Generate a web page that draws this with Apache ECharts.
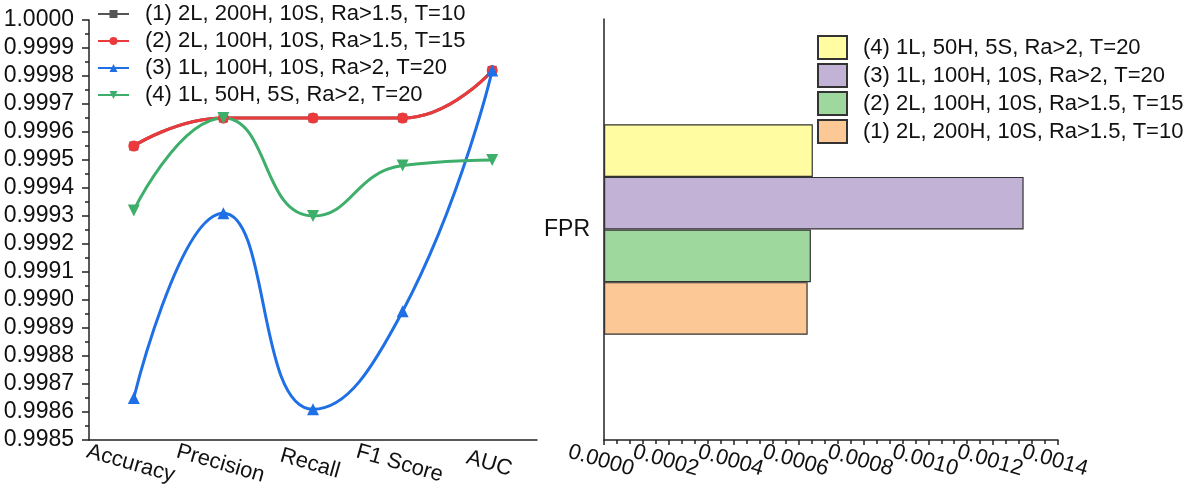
<!DOCTYPE html>
<html>
<head>
<meta charset="utf-8">
<script src="https://cdn.jsdelivr.net/npm/echarts@6/dist/echarts.min.js"></script>
<style>
  html, body { margin: 0; padding: 0; background: #fff; }
  #lineChart { position: absolute; left: 0; top: 0; width: 560px; height: 493px; }
  #barChart { position: absolute; left: 500px; top: 0; width: 696px; height: 493px; }
</style>
</head>
<body>
<div id="lineChart"></div>
<div id="barChart"></div>
<script>
// 指标
const metrics = ['Accuracy', 'Precision', 'Recall', 'F1 Score', 'AUC']
// 各配置名称
const names = [
  '(1) 2L, 200H, 10S, Ra>1.5, T=10',
  '(2) 2L, 100H, 10S, Ra>1.5, T=15',
  '(3) 1L, 100H, 10S, Ra>2, T=20',
  '(4) 1L, 50H, 5S, Ra>2, T=20'
]
const cfg1 = [0.99955, 0.99965, 0.99965, 0.99965, 0.99982]
const cfg2 = [0.99955, 0.99965, 0.99965, 0.99965, 0.99982]
const cfg3 = [0.99865, 0.99931, 0.99861, 0.99896, 0.99982]
const cfg4 = [0.99932, 0.99965, 0.99930, 0.99948, 0.99950]
// FPR 柱状图
const fprCategory = ['FPR']
const fpr = [0.000628, 0.000638, 0.001294, 0.000644]

const font = 'Liberation Sans, Arial, sans-serif'
const lineColors = ['#555555', '#ec3a3c', '#1f6fe5', '#3daf6b']
const barColors = ['#fbc896', '#9ed89c', '#c1b2d6', '#fffca2']
const symbols = ['rect', 'circle', 'triangle', 'path://M0,0 L10,0 L5,9 Z']
const symbolSizes = [9, 11, 12, 12]
const axisColor = '#222'

const lineChart = echarts.init(document.getElementById('lineChart'))
const lineOption = {
  animation: false,
  legend: {
    left: 97,
    top: 3,
    padding: 0,
    orient: 'vertical',
    itemWidth: 31,
    itemHeight: 10,
    itemGap: 5,
    textStyle: { fontFamily: font, fontSize: 22, lineHeight: 22, color: '#111', padding: [0, 0, 0, 11] },
    data: names
  },
  grid: { left: 89, right: 23, top: 20, bottom: 53, outerBoundsMode: 'none' },
  xAxis: [{
    type: 'category',
    data: metrics,
    axisLine: { lineStyle: { color: axisColor, width: 1.5 } },
    axisTick: { alignWithLabel: true, length: 6, lineStyle: { color: axisColor, width: 1.5 } },
    axisLabel: { interval: 0, hideOverlap: false, fontFamily: font, fontSize: 22, color: '#111', rotate: -16, align: 'center', verticalAlign: 'top', margin: 13 }
  }, {
    // 类别边界上的小刻度
    type: 'category',
    data: metrics,
    position: 'bottom',
    axisLine: { show: false },
    axisTick: { length: 4, lineStyle: { color: axisColor, width: 1.5 } },
    axisLabel: { show: false }
  }],
  yAxis: {
    type: 'value',
    min: 0.9985,
    max: 1.0,
    interval: 0.0001,
    axisLine: { show: true, lineStyle: { color: axisColor, width: 1.5 } },
    axisTick: { show: true, length: 7, lineStyle: { color: axisColor, width: 1.5 } },
    minorTick: { show: true, splitNumber: 2, length: 4, lineStyle: { color: axisColor, width: 1.5 } },
    splitLine: { show: false },
    axisLabel: { fontFamily: font, fontSize: 23, color: '#111', margin: 15, formatter: v => v.toFixed(4) }
  },
  series: []
}
const lineData = [cfg1, cfg2, cfg3, cfg4]
lineData.forEach((d, i) => {
  lineOption.series.push({
    name: names[i],
    type: 'line',
    smooth: 0.5,
    data: d,
    symbol: symbols[i],
    symbolSize: symbolSizes[i],
    lineStyle: { color: lineColors[i], width: 3 },
    itemStyle: { color: lineColors[i] }
  })
})
lineChart.setOption(lineOption)

// 右图 x 轴标签: 相邻标签会重叠, 分到两条轴上分别显示
const xLabel = (odd) => ({
  showMinLabel: true,
  showMaxLabel: true,
  hideOverlap: false,
  fontFamily: font,
  fontSize: 22,
  color: '#111',
  rotate: -16,
  align: 'center',
  verticalAlign: 'top',
  margin: 10,
  formatter: v => (Math.round(v / 0.0002) % 2 === (odd ? 1 : 0)) ? v.toFixed(4) : ''
})

const barChart = echarts.init(document.getElementById('barChart'))
const barOption = {
  animation: false,
  legend: {
    left: 317,
    top: 35,
    padding: 0,
    orient: 'vertical',
    icon: 'rect',
    itemWidth: 29,
    itemHeight: 23,
    itemGap: 3,
    textStyle: { fontFamily: font, fontSize: 22, lineHeight: 23, color: '#111', padding: [0, 0, 0, 11] },
    data: [names[3], names[2], names[1], names[0]]
  },
  grid: { left: 104, right: 138, top: 19, bottom: 53, outerBoundsMode: 'none' },
  xAxis: [{
    type: 'value',
    min: 0,
    max: 0.0014,
    interval: 0.0002,
    axisLine: { show: true, lineStyle: { color: axisColor, width: 1.5 } },
    axisTick: { show: true, length: 5, lineStyle: { color: axisColor, width: 1.5 } },
    minorTick: { show: true, splitNumber: 5, length: 4, lineStyle: { color: axisColor, width: 1.5 } },
    splitLine: { show: false },
    axisLabel: xLabel(false)
  }, {
    type: 'value',
    min: 0,
    max: 0.0014,
    interval: 0.0002,
    position: 'bottom',
    axisLine: { show: false },
    axisTick: { show: false },
    splitLine: { show: false },
    axisLabel: xLabel(true)
  }],
  yAxis: {
    type: 'category',
    data: fprCategory,
    axisLine: { lineStyle: { color: axisColor, width: 1.5 } },
    axisTick: { alignWithLabel: true, length: 8, lineStyle: { color: axisColor, width: 1.5 } },
    axisLabel: { fontFamily: font, fontSize: 23, color: '#111', margin: 14 }
  },
  series: []
}
// 横向柱子: 先加入的在上面, 所以从 (4) 开始
for (let i = fpr.length - 1; i >= 0; i--) {
  barOption.series.push({
    name: names[i],
    type: 'bar',
    xAxisIndex: 0,
    barWidth: '12.5%',
    barGap: '0%',
    data: [fpr[i]],
    itemStyle: { color: barColors[i], borderColor: '#333', borderWidth: 1.2 }
  })
}
barChart.setOption(barOption)
</script>
</body>
</html>
